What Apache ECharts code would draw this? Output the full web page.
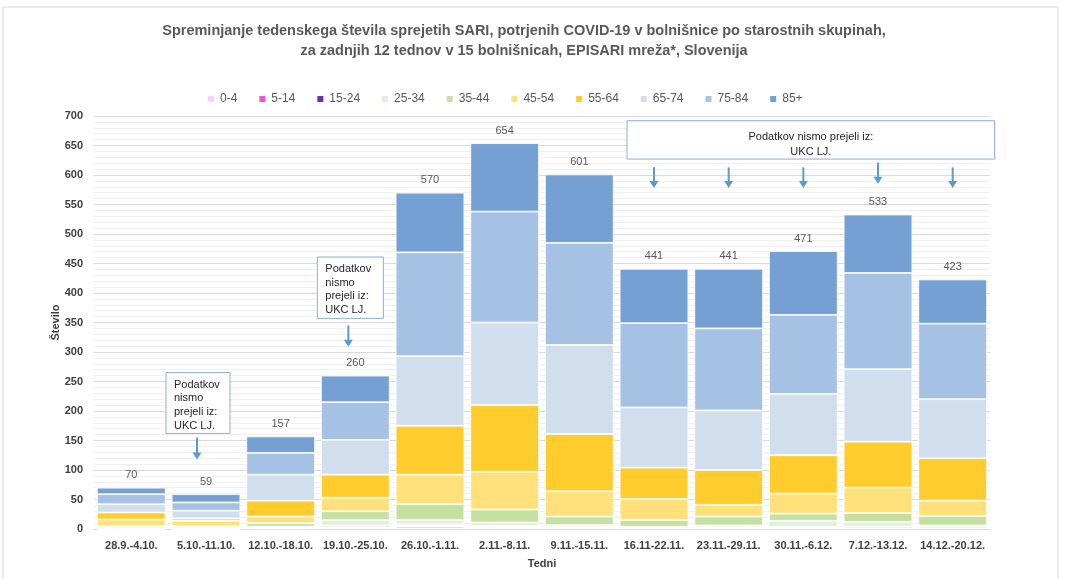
<!DOCTYPE html>
<html>
<head>
<meta charset="utf-8">
<script src="https://cdn.jsdelivr.net/npm/echarts@6/dist/echarts.min.js"></script>
<style>
html,body{margin:0;padding:0;background:#fff;}
#c{width:1069px;height:579px;}
</style>
</head>
<body>
<div id="c"></div>
<script>
const categories = ['28.9.-4.10.','5.10.-11.10.','12.10.-18.10.','19.10.-25.10.','26.10.-1.11.','2.11.-8.11.','9.11.-15.11.','16.11-22.11.','23.11.-29.11.','30.11.-6.12.','7.12.-13.12.','14.12.-20.12.'];
const ageGroups = ['0-4','5-14','15-24','25-34','35-44','45-54','55-64','65-74','75-84','85+'];
const v0_4   = [0, 0, 1, 3, 5, 3, 3, 2, 2, 2, 2, 4];
const v5_14  = [0, 0, 1, 1, 1, 1, 1, 0, 1, 1, 0, 0];
const v15_24 = [0, 0, 1, 2, 2, 1, 0, 0, 1, 1, 2, 0];
const v25_34 = [2, 2, 1, 9, 7, 6, 3, 2, 2, 10, 8, 2];
const v35_44 = [3, 3, 6, 15, 27, 22, 14, 11, 15, 12, 15, 16];
const v45_54 = [11, 9, 11, 23, 50, 64, 43, 36, 20, 34, 43, 26];
const v55_64 = [12, 4, 27, 39, 83, 113, 97, 53, 59, 65, 78, 72];
const v65_74 = [14, 13, 44, 59, 118, 140, 151, 102, 101, 104, 123, 100];
const v75_84 = [17, 14, 37, 64, 176, 188, 173, 143, 139, 134, 163, 128];
const v85    = [11, 14, 28, 45, 101, 116, 116, 92, 101, 108, 99, 75];
const totals = [70, 59, 157, 260, 570, 654, 601, 441, 441, 471, 533, 423];
const yTicks = [0, 50, 100, 150, 200, 250, 300, 350, 400, 450, 500, 550, 600, 650, 700];
const noteText = 'Podatkov\nnismo\nprejeli iz:\nUKC LJ.';
const noteWideText = 'Podatkov nismo prejeli iz:\nUKC LJ.';

const seriesValues = [v0_4, v5_14, v15_24, v25_34, v35_44, v45_54, v55_64, v65_74, v75_84, v85];
const colors = ['#FFCCFF','#E459D6','#7030A0','#E2EFDA','#C5E0A0','#FFE07A','#FFCC2E','#D0DEEE','#A5C1E4','#74A0D4'];
const FONT = "'Liberation Sans Narrow','Liberation Sans',sans-serif";

const chart = echarts.init(document.getElementById('c'), null, {renderer:'canvas'});

const series = ageGroups.map((name, i) => ({
  name: name,
  type: 'bar',
  stack: 'all',
  barCategoryGap: '8%',
  data: seriesValues[i],
  itemStyle: {color: colors[i], borderColor: '#ffffff', borderWidth: 0.8},
  emphasis: {disabled: true},
  label: i === ageGroups.length - 1 ? {
    show: true, position: 'top', distance: 7,
    formatter: p => String(totals[p.dataIndex]),
    color: '#595959', fontSize: 11, fontFamily: FONT
  } : {show: false}
}));

chart.setOption({
  animation: false,
  backgroundColor: '#ffffff',
  title: {
    text: 'Spreminjanje tedenskega števila sprejetih SARI, potrjenih COVID-19 v bolnišnice po starostnih skupinah,\nza zadnjih 12 tednov v 15 bolnišnicah, EPISARI mreža*, Slovenija',
    left: 519, top: 16, textAlign: 'center',
    textStyle: {fontFamily: FONT, fontWeight: 'bold', fontSize: 14.5, color: '#595959', lineHeight: 20}
  },
  legend: {
    data: ageGroups, top: 88, left: 201,
    itemWidth: 8, itemHeight: 8, itemGap: 20, icon: 'rect',
    textStyle: {fontFamily: FONT, fontSize: 12, color: '#595959'}
  },
  grid: {left: 94, right: 79, top: 116, bottom: 50},
  xAxis: {
    type: 'category', data: categories,
    name: 'Tedni', nameLocation: 'middle', nameGap: 29,
    nameTextStyle: {fontFamily: FONT, fontWeight: 'bold', fontSize: 11, color: '#404040'},
    axisLine: {lineStyle: {color: '#d9d9d9'}},
    axisTick: {show: false},
    axisLabel: {fontFamily: FONT, fontWeight: 'bold', fontSize: 11, color: '#404040', margin: 11, interval: 0}
  },
  yAxis: {
    type: 'value', min: yTicks[0], max: yTicks[yTicks.length-1], interval: yTicks[1]-yTicks[0],
    name: 'Število', nameLocation: 'middle', nameGap: 33, nameMoveOverlap: false,
    nameTextStyle: {fontFamily: FONT, fontWeight: 'bold', fontSize: 11, color: '#404040'},
    axisLine: {show: false}, axisTick: {show: false},
    axisLabel: {fontFamily: FONT, fontWeight: 'bold', fontSize: 11, color: '#404040', margin: 11},
    splitLine: {lineStyle: {color: '#d9d9d9'}},
    minorTick: {show: false, splitNumber: 5},
    minorSplitLine: {show: true, lineStyle: {color: '#f0f0f0'}}
  },
  series: series
});

function px(cat, val){ return chart.convertToPixel({gridIndex:0}, [cat, val]); }

function arrow(cat, dx, v1, v2){
  const a = px(cat, v1), b = px(cat, v2);
  const x = a[0] + dx;
  return [
    {type:'line', shape:{x1:x, y1:a[1], x2:x, y2:b[1]-5}, style:{stroke:'#5B9BD5', lineWidth:2}, z:100},
    {type:'polygon', shape:{points:[[x-4.5,b[1]-7],[x+4.5,b[1]-7],[x,b[1]]]}, style:{fill:'#5B9BD5'}, z:100}
  ];
}
function box(catL, dxL, catR, dxR, vTop, vBot, text, align){
  const tl = px(catL, vTop), br = px(catR, vBot);
  const x1 = tl[0] + dxL, x2 = br[0] + dxR;
  const els = [{type:'rect', shape:{x:x1, y:tl[1], width:x2-x1, height:br[1]-tl[1]},
    style:{fill:'#ffffff', stroke:'#8EAADB', lineWidth:1}, z:100}];
  if (align === 'center') {
    els.push({type:'text', x:(x1+x2)/2, y:tl[1]+9, style:{text:text, fill:'#262626', font:"11px 'Liberation Sans Narrow','Liberation Sans',sans-serif", align:'center', lineHeight:15}, z:101});
  } else {
    els.push({type:'text', x:x1+8, y:tl[1]+5, style:{text:text, fill:'#262626', font:"11px 'Liberation Sans Narrow','Liberation Sans',sans-serif", align:'left', lineHeight:13.7}, z:101});
  }
  return els;
}

let g = [];
g.push({type:'rect', shape:{x:3, y:7, width:1055, height:600}, style:{fill:'none', stroke:'#d9d9d9', lineWidth:1}, z:0, silent:true});
g = g.concat(box(categories[1], -40, categories[1], 24, 265, 162, noteText, 'left'));
g = g.concat(arrow(categories[1], -9, 155, 118));
g = g.concat(box(categories[3], -38, categories[3], 28, 461, 357, noteText, 'left'));
g = g.concat(arrow(categories[3], -7, 345, 309));
g = g.concat(box(categories[7], -27, categories[11], 42, 692, 627, noteWideText, 'center'));
[7,8,9,11].forEach(i => { g = g.concat(arrow(categories[i], 0, 613, 578)); });
g = g.concat(arrow(categories[10], 0, 621, 585));
chart.setOption({graphic: g});
</script>
</body>
</html>
